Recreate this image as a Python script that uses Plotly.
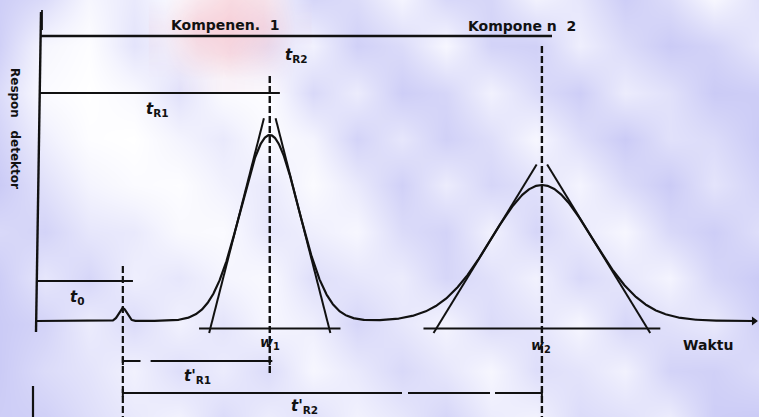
import numpy as np
import plotly.graph_objects as go

# ---- chromatogram data (time in min, detector response in arbitrary units) ----
peak_labels = ["t0", "Komponen 1", "Komponen 2"]
peak_times = [1.70, 4.61, 10.00]      # t0, tR1, tR2
peak_heights = [1.3, 18.6, 13.6]
peak_sigmas = [0.08, 0.57, 1.00]

component_titles = ["Kompenen.\u00a0 1", "Kompone\u00a0n\u00a0 2"]
axis_titles = ["Respon\u00a0\u00a0 detektor", "Waktu"]

# frame of the drawing in data units
X_RANGE = [-0.733, 14.30]
Y_RANGE = [-9.6, 32.1]
W, H = 759, 417


def tx(px):
    """horizontal page position -> time units"""
    return X_RANGE[0] + px / W * (X_RANGE[1] - X_RANGE[0])


def ry(py):
    """vertical page position -> response units"""
    return Y_RANGE[1] - py / H * (Y_RANGE[1] - Y_RANGE[0])


INK = "#111111"
fig = go.Figure()

# ---- mottled paper texture behind the drawing ----
texture = [
    [0.95, 0.70, 0.20, 0.45, 0.10, 0.05, 0.20, 0.80, 0.70, 0.25, 0.75, 0.80, 0.30, 0.50, 0.95, 0.70, 0.20, 0.60],
    [0.90, 0.20, 0.05, 0.55, 0.25, 0.15, 0.55, 0.30, 0.90, 0.70, 0.20, 0.85, 0.90, 0.35, 0.70, 1.00, 0.85, 0.50],
    [0.70, 0.10, 0.00, 0.15, 0.60, 0.10, 0.05, 0.75, 0.40, 0.95, 0.80, 0.30, 0.70, 0.95, 0.40, 0.60, 1.00, 0.95],
    [0.85, 0.35, 0.05, 0.00, 0.25, 0.45, 0.10, 0.25, 0.85, 0.50, 0.90, 0.65, 0.20, 0.65, 1.00, 0.60, 0.70, 1.00],
    [1.00, 0.60, 0.25, 0.10, 0.05, 0.30, 0.45, 0.10, 0.45, 0.90, 0.40, 0.80, 0.60, 0.25, 0.70, 1.00, 0.55, 0.85],
    [0.75, 0.85, 0.50, 0.45, 0.15, 0.10, 0.50, 0.35, 0.20, 0.70, 0.85, 0.30, 0.80, 0.45, 0.20, 0.75, 0.95, 0.65],
    [0.95, 0.50, 0.80, 0.35, 0.50, 0.25, 0.15, 0.65, 0.50, 0.40, 0.80, 0.60, 0.30, 0.75, 0.50, 0.25, 0.80, 1.00],
    [1.00, 0.85, 0.40, 0.70, 0.30, 0.55, 0.20, 0.35, 0.80, 0.50, 0.25, 0.70, 0.55, 0.20, 0.80, 0.60, 0.45, 0.90],
    [1.00, 0.70, 0.55, 0.30, 0.65, 0.40, 0.70, 0.20, 0.45, 0.75, 0.50, 0.20, 0.65, 0.55, 0.30, 0.85, 0.90, 0.70],
    [0.95, 0.90, 0.65, 0.45, 0.30, 0.70, 0.40, 0.60, 0.30, 0.50, 0.80, 0.40, 0.30, 0.70, 0.60, 0.40, 0.95, 1.00],
]
fig.add_trace(go.Heatmap(
    z=texture,
    x=np.linspace(X_RANGE[0], X_RANGE[1], len(texture[0])),
    y=np.linspace(Y_RANGE[1], Y_RANGE[0], len(texture)),
    zmin=0, zmax=1, zsmooth="best", showscale=False, hoverinfo="skip",
    colorscale=[[0, "#ffffff"], [0.25, "#f4f4fe"], [1, "#cbcbf6"]],
))

# faint rose stain near the top
stain = [
    [0.0, 0.5, 0.8, 0.6, 0.0],
    [0.2, 0.9, 1.0, 0.8, 0.1],
    [0.1, 0.6, 0.8, 0.5, 0.0],
    [0.0, 0.1, 0.2, 0.1, 0.0],
]
fig.add_trace(go.Heatmap(
    z=stain,
    x=np.linspace(tx(165), tx(295), 5),
    y=np.linspace(ry(0), ry(80), 4),
    zmin=0, zmax=1, zsmooth="best", showscale=False, hoverinfo="skip",
    colorscale=[[0, "rgba(245,195,205,0)"], [1, "rgba(245,190,200,0.7)"]],
))


def line(xs, ys, width=2.2, dash=None):
    fig.add_trace(go.Scatter(
        x=xs, y=ys, mode="lines", hoverinfo="skip", showlegend=False,
        line=dict(color=INK, width=width, dash=dash),
    ))


# ---- chromatogram trace ----
t = np.linspace(0.0, X_RANGE[1] - 0.12, 1500)
signal = np.zeros_like(t)
for tc, h, s in zip(peak_times, peak_heights, peak_sigmas):
    signal += h * np.exp(-0.5 * ((t - tc) / s) ** 2)
line(t, signal, width=2.2)
# arrow head of the time axis
fig.add_trace(go.Scatter(
    x=[X_RANGE[1] - 0.1], y=[0], mode="markers", hoverinfo="skip",
    showlegend=False,
    marker=dict(symbol="triangle-right", size=8, color=INK),
))

# ---- detector axis ----
line([tx(41), tx(36)], [ry(12), ry(332)], width=2.4)
line([tx(33), tx(33)], [ry(386), Y_RANGE[0]], width=2.2)

# ---- tangents at inflection points and base widths ----
foot = -1.2
for tc, h, s, top in zip(peak_times[1:], peak_heights[1:], peak_sigmas[1:], [1.09, 1.15]):
    k = s / (0.6065 * h)
    left = [tc - 2 * s + foot * k, tc - 2 * s + top * h * k]
    right = [tc + 2 * s - foot * k, tc + 2 * s - top * h * k]
    line(left, [foot, top * h], width=2.0)
    line(right, [foot, top * h], width=2.0)
    line([left[0] - 0.2, right[0] + 0.2], [foot + 0.45, foot + 0.45], width=1.8)

# ---- retention marks ----
t0, tR1, tR2 = peak_times
line([t0, t0], [ry(266), Y_RANGE[0]], width=2.2, dash="7px,3px")
line([tR1, tR1], [ry(76), ry(375)], width=2.4, dash="7px,3px")
line([tR2, tR2], [ry(46), Y_RANGE[0]], width=2.4, dash="7px,3px")

# dimension lines from the injection point (top) ...
line([tx(40), tR2 + 0.2], [ry(36), ry(36)], width=2.4)
line([tx(40), tR1 + 0.2], [ry(93), ry(93)], width=2.2)
line([tx(38), t0 + 0.2], [ry(281), ry(281)], width=2.0)
line([tx(42), tx(42)], [ry(10), ry(30)], width=1.8)
# ... and from t0 (bottom)
line([t0, t0 + 0.35, None, t0 + 0.55, tR1 + 0.05], [ry(361)] * 2 + [None] + [ry(361)] * 2, width=2.0)
line([t0, tx(402), None, tx(408), tx(490), None, tx(495), tR2], [ry(393)] * 2 + [None] + [ry(393)] * 2 + [None] + [ry(393)] * 2, width=2.0)
for xx, yy in [(t0, 361), (tR1, 361), (t0, 393), (tR2, 393)]:
    line([xx, xx], [ry(yy - 4), ry(yy + 4)], width=2.0)

# ---- labels ----
FONT = dict(family="DejaVu Sans", color=INK)


def label(px, py, text, size=11, angle=0):
    fig.add_annotation(x=tx(px), y=ry(py), text=text, showarrow=False,
                       textangle=angle, font=dict(size=size, **FONT))


label(225, 25, "<b>" + component_titles[0] + "</b>", size=14)
label(522, 26, "<b>" + component_titles[1] + "</b>", size=14)
label(296, 55, "<b><i>t</i><sub>R2</sub></b>", size=15)
label(157, 109, "<b><i>t</i><sub>R1</sub></b>", size=15)
label(77, 297, "<b><i>t</i><sub>0</sub></b>", size=15)
label(270, 343, "<b><i>w</i><sub>1</sub></b>", size=14)
label(541, 346, "<b><i>w</i><sub>2</sub></b>", size=14)
label(708, 345, "<b>" + axis_titles[1] + "</b>", size=14)
label(197, 376, "<b><i>t'</i><sub>R1</sub></b>", size=15)
label(304, 406, "<b><i>t'</i><sub>R2</sub></b>", size=15)
label(15, 128, "<b>" + axis_titles[0] + "</b>", size=12, angle=90)

fig.update_layout(
    width=W, height=H, margin=dict(l=0, r=0, t=0, b=0),
    paper_bgcolor="white", plot_bgcolor="white", showlegend=False,
    xaxis=dict(range=X_RANGE, visible=False, fixedrange=True),
    yaxis=dict(range=Y_RANGE, visible=False, fixedrange=True),
)
fig.write_html("out.html")
